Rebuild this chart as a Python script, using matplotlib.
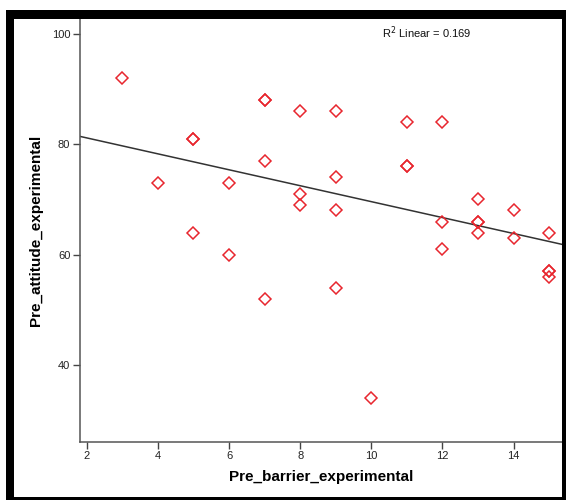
import numpy as np
import matplotlib
matplotlib.use('Agg')
import matplotlib.pyplot as plt
from matplotlib.patches import Rectangle

# Pre_barrier_experimental vs Pre_attitude_experimental
barrier = [3, 4, 5, 5, 5, 6, 6, 7, 7, 7, 7, 8, 8, 8, 9, 9, 9, 9, 10,
           11, 11, 11, 12, 12, 12, 13, 13, 13, 13, 14, 14, 15, 15, 15, 15]
attitude = [92, 73, 81, 81, 64, 73, 60, 88, 88, 77, 52, 86, 71, 69, 86, 74, 68, 54, 34,
            84, 76, 76, 84, 66, 61, 70, 66, 66, 64, 68, 63, 64, 57, 57, 56]
x_ticks = [2, 4, 6, 8, 10, 12, 14]
y_ticks = [40, 60, 80, 100]

plt.rcParams['font.family'] = ['Liberation Sans', 'DejaVu Sans']

W, H = 566, 500
fig = plt.figure(figsize=(W / 100, H / 100), dpi=100)
fig.patch.set_facecolor('white')

# axes placed in pixel terms
left, right, top, bottom = 80, 562, 19, 441.7
ax = fig.add_axes([left / W, 1 - bottom / H, (right - left) / W, (bottom - top) / H])

x = np.array(barrier, dtype=float)
y = np.array(attitude, dtype=float)
slope, intercept = np.polyfit(x, y, 1)
r2 = np.corrcoef(x, y)[0, 1] ** 2

ax.set_xlim(1.81, 15.36)
ax.set_ylim(26.1, 102.7)

xs = np.array(ax.get_xlim())
ax.plot(xs, intercept + slope * xs, color='#333333', linewidth=1.1, zorder=2)
ax.plot(x, y, linestyle='none', marker='D', markersize=6.2, markerfacecolor='none',
        markeredgecolor='#e8262e', markeredgewidth=1.1, zorder=3)

ax.text(0.626, 0.9685, 'R$^2$ Linear = %.3f' % r2, transform=ax.transAxes,
        ha='left', va='center', fontsize=8, color='#111111')

ax.set_xticks(x_ticks)
ax.set_yticks(y_ticks)
ax.tick_params(axis='both', direction='out', length=5, width=1, color='#444444',
               labelsize=8, labelcolor='#222222', pad=2)
for s in ['top', 'right']:
    ax.spines[s].set_visible(False)
for s in ['left', 'bottom']:
    ax.spines[s].set_color('#555555')
    ax.spines[s].set_linewidth(1.1)

ax.set_xlabel('Pre_barrier_experimental', fontsize=11, fontweight='bold')
ax.set_ylabel('Pre_attitude_experimental', fontsize=11, fontweight='bold')
ax.xaxis.set_label_coords(0.5, (bottom - 470) / (bottom - top))
ax.yaxis.set_label_coords((43 - left) / (right - left), 0.5)

# black frame around the chart
def px_rect(x0, y0, x1, y1, color):
    fig.patches.append(Rectangle((x0 / W, 1 - y1 / H), (x1 - x0) / W, (y1 - y0) / H,
                                 transform=fig.transFigure, facecolor=color,
                                 edgecolor='none', zorder=10))

px_rect(6, 10, 566, 19, 'black')
px_rect(6, 10, 14, 500, 'black')
px_rect(562, 10, 566, 500, 'black')
px_rect(6, 497, 566, 500, 'black')

fig.savefig('out.png', dpi=100)
